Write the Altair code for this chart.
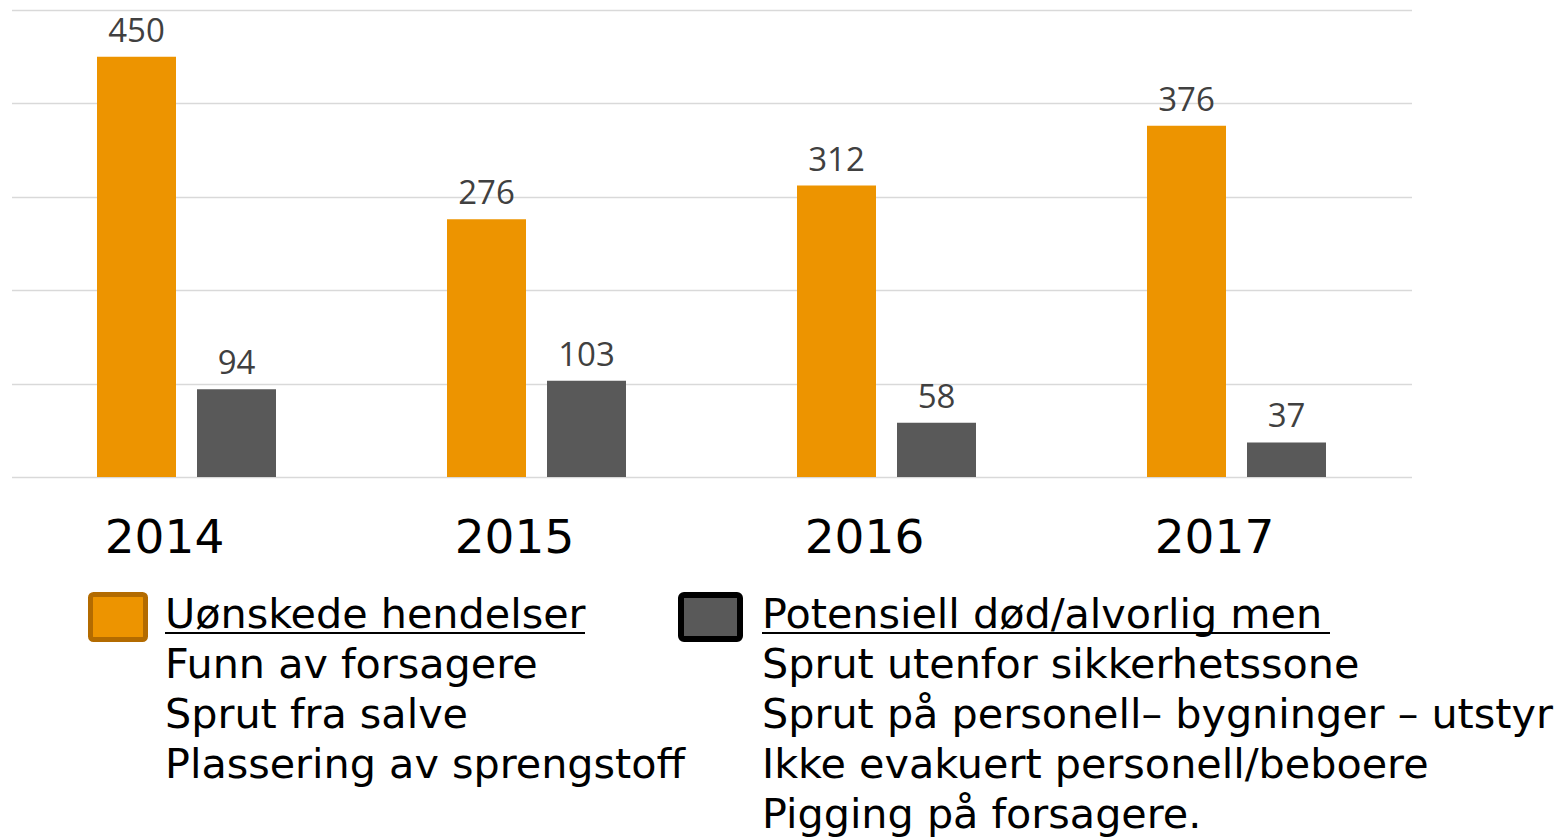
import altair as alt
import pandas as pd

years = ["2014", "2015", "2016", "2017"]
series = ["Uønskede hendelser", "Potensiell død/alvorlig men"]
uonskede = [450, 276, 312, 376]
potensiell = [94, 103, 58, 37]
colors = ["#ED9400", "#595959"]

legend1 = ["Uønskede hendelser", "Funn av forsagere", "Sprut fra salve", "Plassering av sprengstoff"]
legend2 = ["Potensiell død/alvorlig men", "Sprut utenfor sikkerhetssone",
           "Sprut på personell– bygninger – utstyr", "Ikke evakuert personell/beboere",
           "Pigging på forsagere."]

rows = []
for i, y in enumerate(years):
    rows.append({"year": y, "series": series[0], "value": uonskede[i]})
    rows.append({"year": y, "series": series[1], "value": potensiell[i]})
df = pd.DataFrame(rows)

W, H = 1400, 467
FONT = "DejaVu Sans"

x = alt.X("year:N", sort=years,
          scale=alt.Scale(paddingInner=0, paddingOuter=0),
          axis=alt.Axis(title=None, domain=False, ticks=False, labelAngle=0,
                        labelFont=FONT, labelFontSize=47, labelColor="#000000",
                        labelPadding=38, labelOffset=-22))
xo = alt.XOffset("series:N", sort=series,
                 scale=alt.Scale(paddingInner=0.21, paddingOuter=0.855))
y = alt.Y("value:Q", scale=alt.Scale(domain=[0, 500], nice=False),
          axis=alt.Axis(title=None, labels=False, ticks=False, domain=False,
                        values=[0, 100, 200, 300, 400, 500],
                        gridColor="#D9D9D9", gridWidth=1.5))
color = alt.Color("series:N", sort=series,
                  scale=alt.Scale(domain=series, range=colors), legend=None)

bars = alt.Chart(df).mark_bar().encode(x=x, xOffset=xo, y=y, color=color)
labels = alt.Chart(df).mark_text(font="Open Sans", fontSize=33, color="#404040",
                                 baseline="alphabetic", dy=-15).encode(
    x=alt.X("year:N", sort=years), xOffset=alt.XOffset("series:N", sort=series),
    y="value:Q", text="value:Q")

one = pd.DataFrame({"k": [0]})
sq1 = alt.Chart(one).mark_rect(fill=colors[0], stroke="#B36B00", strokeWidth=5,
                               cornerRadius=3).encode(
    x=alt.value(79), x2=alt.value(134), y=alt.value(584.5), y2=alt.value(629.5))
sq2 = alt.Chart(one).mark_rect(fill=colors[1], stroke="#000000", strokeWidth=6,
                               cornerRadius=3).encode(
    x=alt.value(669.5), x2=alt.value(728.5), y=alt.value(585), y2=alt.value(629))
t1 = alt.Chart(one).mark_text(font=FONT, fontSize=41.3, color="#000000", align="left",
                              baseline="alphabetic", lineHeight=50).encode(
    x=alt.value(153.5), y=alt.value(618), text=alt.value(legend1))
t2 = alt.Chart(one).mark_text(font=FONT, fontSize=41.3, color="#000000", align="left",
                              baseline="alphabetic", lineHeight=50).encode(
    x=alt.value(750.5), y=alt.value(618), text=alt.value(legend2))
u1 = alt.Chart(one).mark_rule(color="#000000", strokeWidth=2).encode(
    x=alt.value(153.5), x2=alt.value(573.5), y=alt.value(623))
u2 = alt.Chart(one).mark_rule(color="#000000", strokeWidth=2).encode(
    x=alt.value(750.5), x2=alt.value(1318.5), y=alt.value(623))

chart = alt.layer(bars, labels, sq1, sq2, t1, t2, u1, u2).properties(
    width=W, height=H, background="#FFFFFF",
    padding={"left": 3.5, "top": 2, "right": 0, "bottom": 2},
).configure_view(strokeWidth=0)

chart.save("out.html", embed_options={"renderer": "svg", "actions": False})
